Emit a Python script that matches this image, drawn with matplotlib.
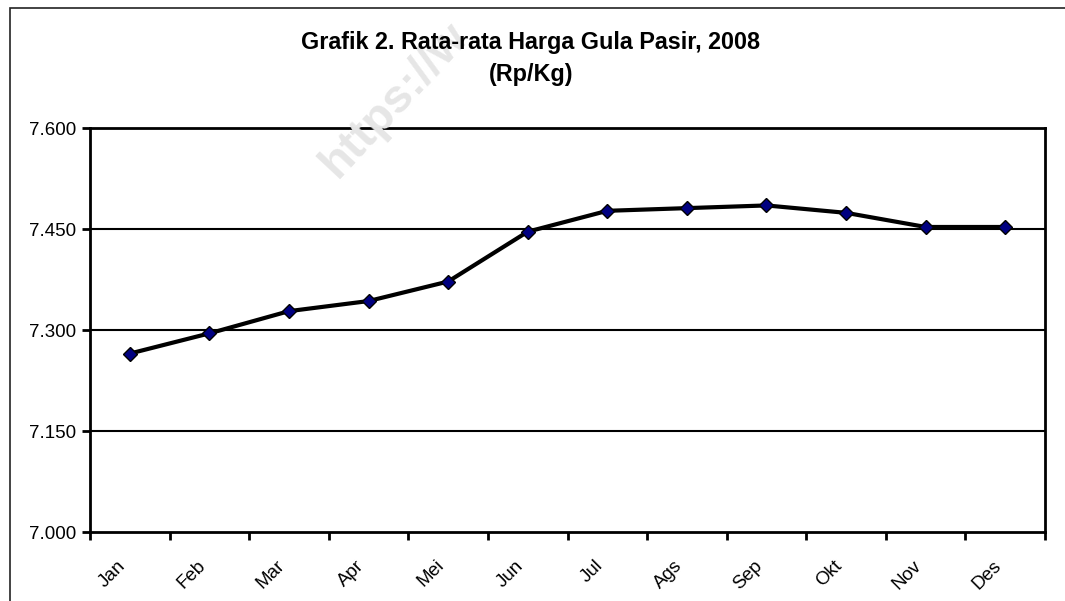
import matplotlib.pyplot as plt
from matplotlib.patches import Rectangle

months = ['Jan', 'Feb', 'Mar', 'Apr', 'Mei', 'Jun', 'Jul', 'Ags', 'Sep', 'Okt', 'Nov', 'Des']
harga = [7265, 7295, 7328, 7343, 7372, 7446, 7477, 7481, 7485, 7474, 7453, 7453]
yticks = [7000, 7150, 7300, 7450, 7600]
ylabels = ['7.000', '7.150', '7.300', '7.450', '7.600']

plt.rcParams['font.family'] = ['Liberation Sans', 'DejaVu Sans']

W, H = 1065, 601
fig = plt.figure(figsize=(W / 100, H / 100), dpi=100)

# outer chart frame (runs off right and bottom edge)
fig.patches.append(Rectangle((10 / W, -0.1), 1.2, 1 - 8 / H + 0.1,
                             transform=fig.transFigure, fill=False,
                             edgecolor='#222222', linewidth=1.2, zorder=0))

# faint watermark
fig.text(395 / W, 1 - 100 / H, 'https://w', rotation=47, color='#e6e6e6',
         fontsize=34, fontweight='bold', ha='center', va='center', zorder=0)

ax = fig.add_axes([90 / W, 1 - 532 / H, (1045 - 90) / W, (532 - 128) / H])
ax.patch.set_alpha(0)

x = range(len(months))
ax.plot(x, harga, color='black', linewidth=3, marker='D', markersize=7.2,
        markerfacecolor='#000080', markeredgecolor='black', markeredgewidth=1,
        zorder=3)

ax.set_xlim(-0.5, len(months) - 0.5)
ax.set_ylim(7000, 7600)
ax.set_yticks(yticks)
ax.set_yticklabels(ylabels, fontsize=13.5)
for y in yticks[1:-1]:
    ax.axhline(y, color='black', linewidth=1.5, zorder=1)

# category boundary ticks, labels sit a bit left of the centre (excel style)
ax.set_xticks([i - 0.5 for i in range(len(months) + 1)])
ax.set_xticklabels([])
ax.set_xticks([i - 0.16 for i in x], minor=True)
ax.set_xticklabels(months, minor=True, rotation=45, fontsize=13.5,
                   ha='right', va='top', rotation_mode='anchor')
ax.tick_params(axis='x', which='minor', length=0, pad=18)
ax.tick_params(axis='x', which='major', length=6, width=2, direction='out')
ax.tick_params(axis='y', length=6, width=2, direction='out', pad=4)

for s in ax.spines.values():
    s.set_linewidth(2)
    s.set_color('black')

fig.text(531 / W, 1 - 42 / H, 'Grafik 2. Rata-rata Harga Gula Pasir, 2008',
         fontsize=16.8, fontweight='bold', ha='center', va='center')
fig.text(531 / W, 1 - 74 / H, '(Rp/Kg)',
         fontsize=16.8, fontweight='bold', ha='center', va='center')

fig.savefig('out.png', dpi=100)
